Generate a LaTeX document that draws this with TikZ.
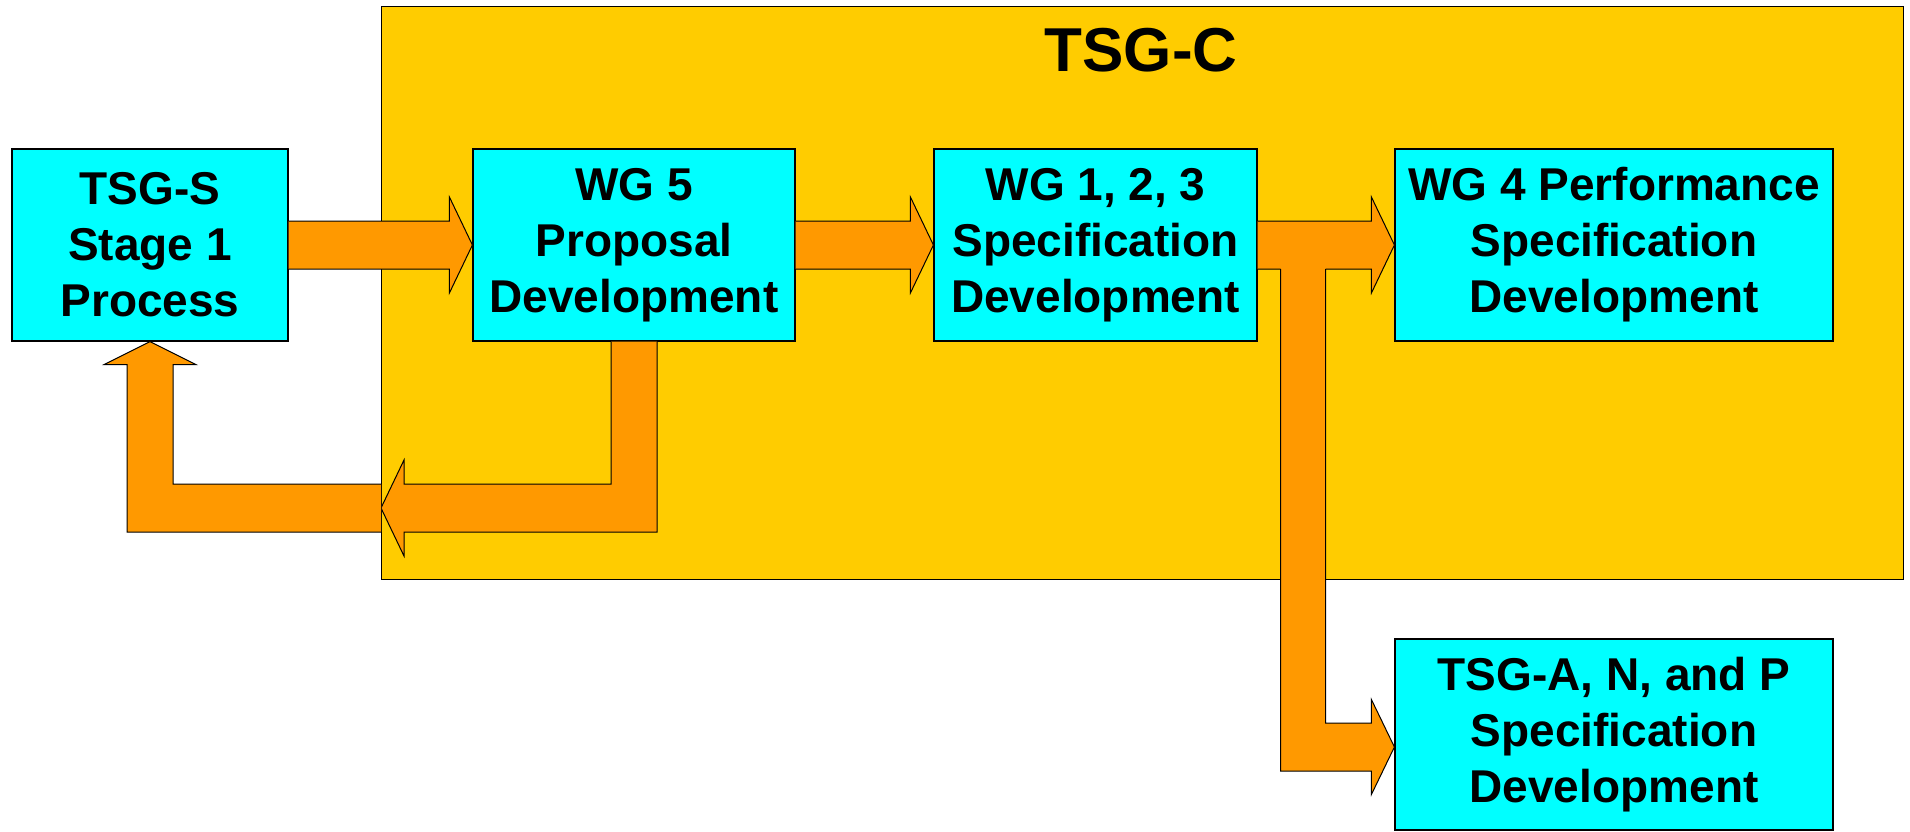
\documentclass[tikz,border=0pt]{standalone}
\usepackage{fontspec}
\setmainfont{Liberation Sans}
\usetikzlibrary{calc}
\definecolor{boxcyan}{HTML}{00FFFF}
\definecolor{tsgyellow}{HTML}{FFCC00}
\definecolor{flowgold}{HTML}{FF9900}
\tikzset{
  stage/.style={draw, fill=boxcyan, line width=0.6pt, align=center, inner sep=0pt,
                minimum height=96pt, font=\fontsize{23}{28}\selectfont\bfseries},
  flow/.style={fill=flowgold, draw=black, line width=0.5pt},
}
% horizontal block arrow: from, to, head length
\newcommand{\fatarrow}[3]{%
  \filldraw[flow] ($(#1)+(0,-24)$) -- ($(#2)+(-#3,-24)$) -- ++(0,-24) -- (#2)
    -- ($(#2)+(-#3,48)$) -- ++(0,-24) -- ($(#1)+(0,24)$);}
\begin{document}
\begin{tikzpicture}[x=0.5pt, y=-0.5pt]
  \useasboundingbox (0,0) rectangle (1910,831);
  \node (tsgc) [draw, fill=tsgyellow, line width=0.5pt, minimum width=761pt,
                minimum height=286.5pt] at (1142,292.5) {};
  \node (title) at (1141,50) {\fontsize{31}{36}\selectfont\bfseries TSG-C};

  \node (tsgs) [stage, minimum width=138pt] at (150,245) {TSG-S\\Stage 1\\Process};
  \node (wg5) [stage, minimum width=161pt] at (634,245) {WG 5\\Proposal\\Development};
  \node (wg123) [stage, minimum width=161.5pt] at (1095.5,245) {WG 1, 2, 3\\Specification\\Development};
  \node (wg4) [stage, minimum width=219pt] at (1614,245) {WG 4 Performance\\Specification\\Development};
  \node (tsga) [stage, minimum width=219pt, minimum height=95.5pt] at (1614,734.5)
       {TSG-A, N, and P\\Specification\\Development};

  \coordinate (ret) at (381,508);
  \coordinate (fork) at ($(tsga.west)+(0,12.5)$);

  \fatarrow{tsgs.east}{wg5.west}{23}
  \fatarrow{wg5.east}{wg123.west}{23}
  \fatarrow{wg123.east}{wg4.west}{23}

  % back to stage 1
  \filldraw[flow] ($(wg5.south)+(-23,0)$) |- ($(ret)+(23,-24)$) -- ++(0,-24) -- (ret)
    -- ($(ret)+(23,48)$) -- ++(0,-24) -| ($(wg5.south)+(23,0)$);
  \filldraw[flow] ($(ret)+(0,-24)$) -| ($(tsgs.south)+(23,23)$) -- ++(23,0) -- (tsgs.south)
    -- ($(tsgs.south)+(-46,23)$) -- ++(23,0) |- ($(ret)+(0,24)$);

  % branch down to the other TSGs
  \fill[flowgold] ($(wg123.east)+(23,18)$) |- ($(fork)+(-23,24)$) -- ++(0,23.5) -- (fork)
    -- ($(fork)+(-23,-47.5)$) -- ++(0,23.5) -| ($(wg123.east)+(68,18)$) -- cycle;
  \draw[line width=0.5pt] ($(wg123.east)+(23,24)$) |- ($(fork)+(-23,24)$) -- ++(0,23.5) -- (fork)
    -- ($(fork)+(-23,-47.5)$) -- ++(0,23.5) -| ($(wg123.east)+(68,24)$);
\end{tikzpicture}
\end{document}
